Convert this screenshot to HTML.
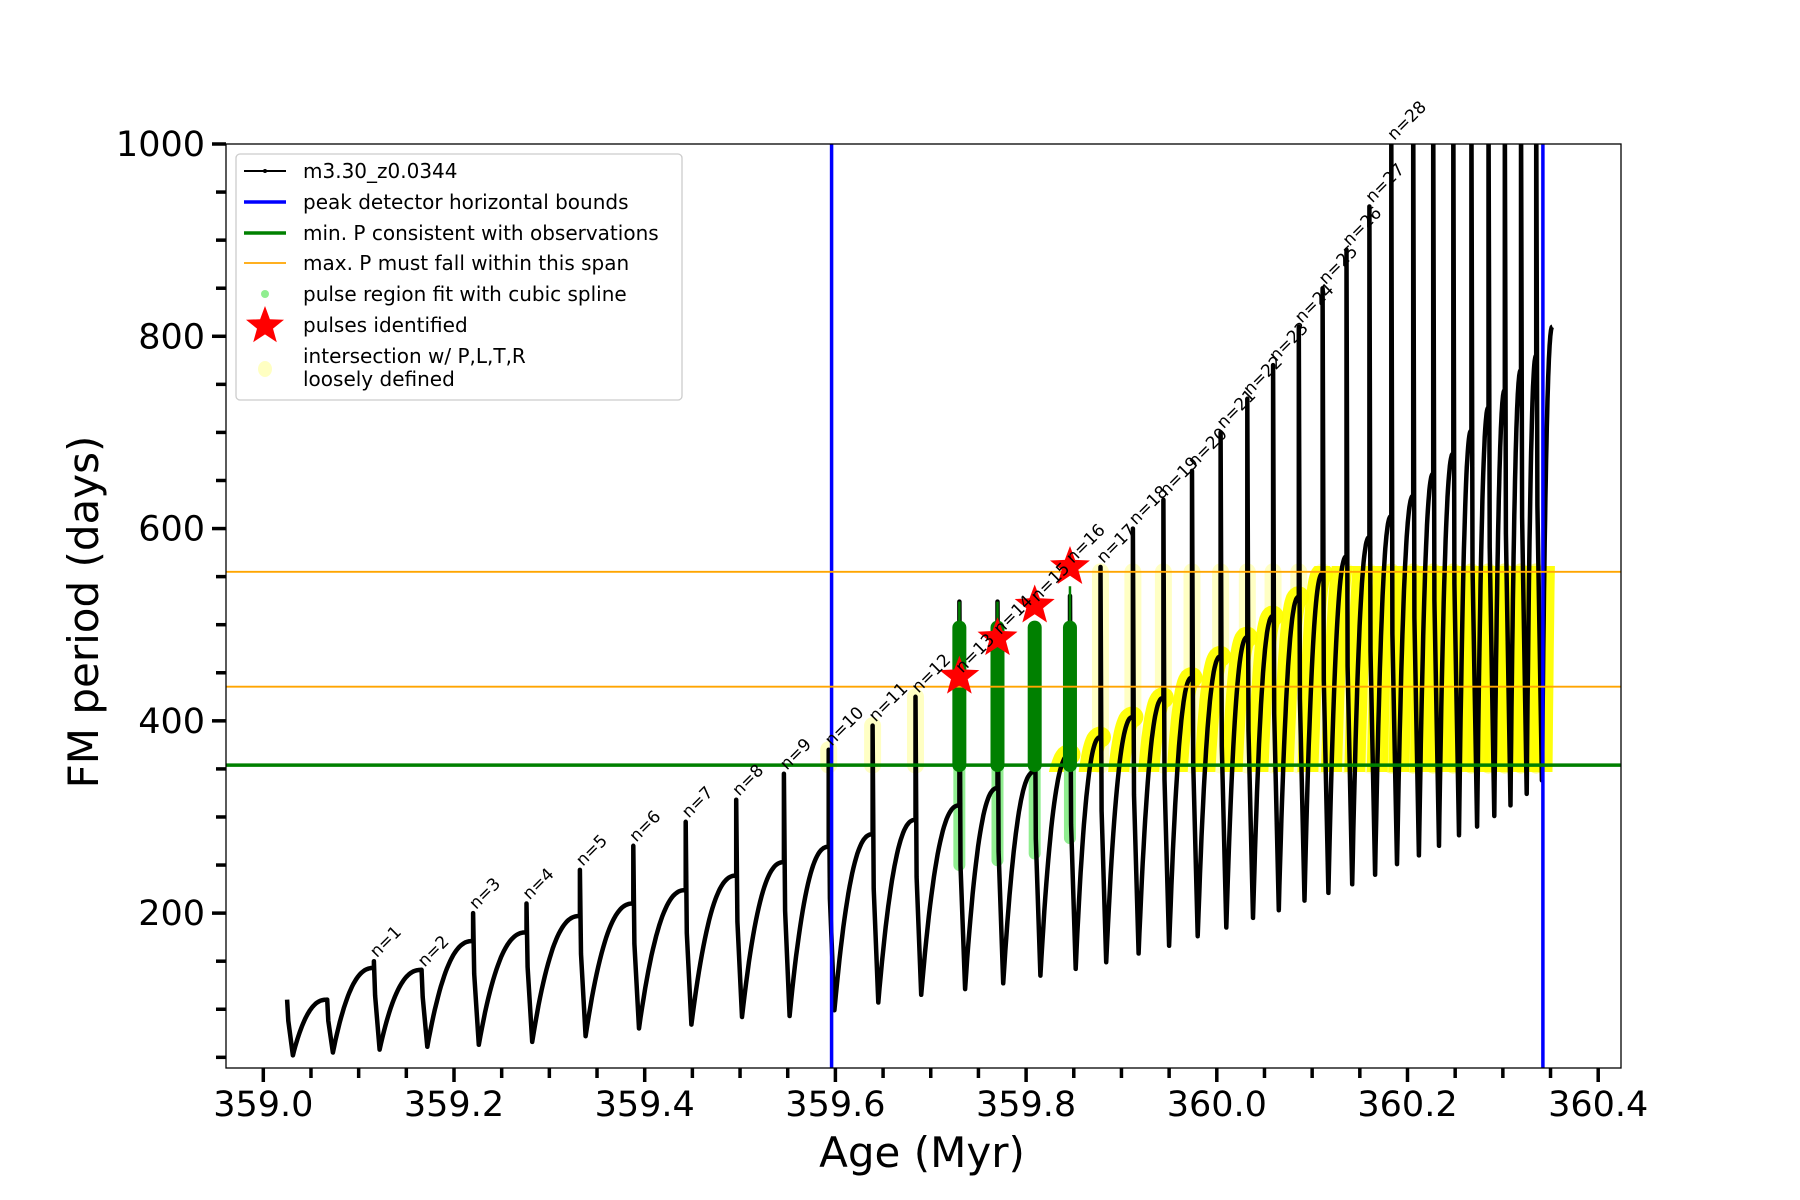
<!DOCTYPE html>
<html><head><meta charset="utf-8">
<style>
html,body{margin:0;padding:0;background:#fff;}
svg{display:block;font-family:"DejaVu Sans","Liberation Sans",sans-serif;}
</style></head>
<body>
<svg id="chart" width="1800" height="1200" viewBox="0 0 1800 1200">
<defs>
<clipPath id="plotclip"><rect x="226" y="144" width="1395" height="924"/></clipPath>
<clipPath id="bandclip"><rect x="226" y="566" width="1395" height="206"/></clipPath>
</defs>
<rect x="0" y="0" width="1800" height="1200" fill="#fff"/>
<g id="plot" clip-path="url(#plotclip)"></g>
<rect x="226" y="144" width="1395" height="924" fill="none" stroke="#000" stroke-width="1.3"/>
<g id="axes"></g>
<text x="922" y="1167" font-size="42" text-anchor="middle">Age (Myr)</text>
<text x="0" y="0" font-size="42" text-anchor="middle" transform="translate(98,612) rotate(-90)">FM period (days)</text>
<g id="legend">
<rect x="236" y="154" width="446" height="246" rx="4" fill="#fff" fill-opacity="0.85" stroke="#ccc" stroke-width="1.3"/>
<line x1="244" y1="171" x2="286" y2="171" stroke="#000" stroke-width="2"/>
<circle cx="265" cy="171" r="2" fill="#000"/>
<text x="303" y="178" font-size="20">m3.30_z0.0344</text>
<line x1="244" y1="202" x2="286" y2="202" stroke="#0000ff" stroke-width="3.5"/>
<text x="303" y="209" font-size="20">peak detector horizontal bounds</text>
<line x1="244" y1="233" x2="286" y2="233" stroke="#008000" stroke-width="3.5"/>
<text x="303" y="240" font-size="20">min. P consistent with observations</text>
<line x1="244" y1="263" x2="286" y2="263" stroke="#ffa500" stroke-width="1.8"/>
<text x="303" y="270" font-size="20">max. P must fall within this span</text>
<circle cx="265" cy="294" r="4" fill="#90ee90"/>
<text x="303" y="301" font-size="20">pulse region fit with cubic spline</text>
<polygon id="legstar" fill="#ff0000"/>
<text x="303" y="332" font-size="20">pulses identified</text>
<ellipse cx="265" cy="369" rx="7" ry="8" fill="#ffff99" fill-opacity="0.6"/>
<text x="303" y="363" font-size="20">intersection w/ P,L,T,R</text>
<text x="303" y="386" font-size="20">loosely defined</text>
</g>
</svg>
<script>
// ---- data ----
const spikeAge = [359.025,359.067,359.116,359.166,359.220,359.276,359.332,359.388,359.443,359.496,359.546,359.593,359.639,359.684,359.730,359.770,359.809,359.846,359.878,359.912,359.944,359.974,360.004,360.032,360.059,360.086,360.111,360.136,360.160,360.183,360.206,360.227,360.248,360.267,360.285,360.302,360.319,360.335];
const peakP = [110,110,150,140,200,210,245,270,295,318,345,370,395,425,524,524,500,530,560,600,630,660,700,735,770,810,850,890,935,1010,1050,1050,1050,1050,1050,1050,1050,1050];
const minP = [52,55,58,61,63,66,72,80,84,92,93,99,107,115,121,127,135,142,149,158,166,176,185,195,203,213,221,230,240,251,260,270,281,290,301,312,324,338];
const riseMaxP = [110,143,141,171,180,197,210,224,239,253,269,282,297,312,330,347,365,383,404,424,445,467,487,509,529,553,571,591,613,634,657,678,702,726,744,765,780,810];
const endAge = 360.352;
const labelN = [null,null,1,2,3,4,5,6,7,8,9,10,11,12,13,14,15,16,17,18,19,20,21,22,23,24,25,26,27,28,null,null,null,null,null,null,null,null];
const starAge = [359.730,359.770,359.809,359.846];
const starP = [446,486,520,560];
const greenTopP = [497,497,497,497];
const greenSpikeP = [524,524,500,540];
const lightBottomP = [250,255,262,278];
const blueAges = [359.596,360.342];
const greenP = [354];
const orangeP = [555,435.5];
const xTicks = [359.0,359.2,359.4,359.6,359.8,360.0,360.2,360.4];
const xTickLabels = ["359.0","359.2","359.4","359.6","359.8","360.0","360.2","360.4"];
const yTicks = [200,400,600,800,1000];
const yTickLabels = ["200","400","600","800","1000"];

// ---- scales ----
const X = a => 263.3 + (a - 359.0) * 953.5;
const Y = v => 144 + (1000 - v) * 0.9614;
const NS = 'http://www.w3.org/2000/svg';
function mk(tag, attrs, parent) {
  const e = document.createElementNS(NS, tag);
  for (const k in attrs) e.setAttribute(k, attrs[k]);
  parent.appendChild(e);
  return e;
}
const plot = document.getElementById('plot');
const axes = document.getElementById('axes');

// ---- model curve ----
let d = '';
const risePaths = [];
for (let i = 0; i < spikeAge.length; i++) {
  const t = spikeAge[i];
  const tn = (i + 1 < spikeAge.length) ? spikeAge[i + 1] : endAge;
  const prev = i === 0 ? peakP[0] : riseMaxP[i - 1];
  d += (i === 0 ? 'M' : 'L') + X(t).toFixed(1) + ',' + Y(prev).toFixed(1);
  d += 'L' + X(t).toFixed(1) + ',' + Y(peakP[i]).toFixed(1);
  d += 'L' + X(t + 0.0012).toFixed(1) + ',' + Y(prev * 0.8).toFixed(1);
  const t0 = t + 0.006;
  let rp = '';
  for (let k = 0; k <= 30; k++) {
    const u = k / 30;
    const v = minP[i] + (riseMaxP[i] - minP[i]) * (1 - Math.pow(1 - u, 2.4));
    const a = t0 + (tn - t0) * u;
    const seg = X(a).toFixed(1) + ',' + Y(v).toFixed(1);
    d += 'L' + seg;
    rp += (k === 0 ? 'M' : 'L') + seg;
  }
  risePaths.push(rp);
}

// yellow faint spike columns
for (let i = 11; i < spikeAge.length; i++) {
  if (i >= 14 && i <= 17) continue;
  const top = Math.min(peakP[i], orangeP[0]);
  const op = i >= 29 ? 0.75 : 0.35;
  const col = mk('line', {x1: X(spikeAge[i]), y1: Y(greenP[0]), x2: X(spikeAge[i]), y2: Y(top), stroke: '#ffff55', 'stroke-width': 17, 'stroke-opacity': op, 'stroke-linecap': 'round'}, plot);
  
  
}
// yellow rising band
const band = mk('g', {'clip-path': 'url(#bandclip)'}, plot);


for (let i = 16; i < risePaths.length; i++) {
  const p = mk('path', {d: risePaths[i], fill: 'none', stroke: '#ffff00', 'stroke-width': 21, 'stroke-linecap': 'round', 'stroke-opacity': 0.95}, band);
  
  
}

// light green spline regions
for (let j = 0; j < starAge.length; j++) {
  const l = mk('line', {x1: X(starAge[j]), y1: Y(greenP[0]), x2: X(starAge[j]), y2: Y(lightBottomP[j]), stroke: '#90ee90', 'stroke-width': 12, 'stroke-linecap': 'round'}, plot);
  
  
}

// model line
const model = mk('path', {d: d, fill: 'none', stroke: '#000', 'stroke-width': 4.5, 'stroke-linejoin': 'round'}, plot);



// dark green pulse columns
for (let j = 0; j < starAge.length; j++) {
  const s = mk('line', {x1: X(starAge[j]), y1: Y(greenTopP[j]), x2: X(starAge[j]), y2: Y(greenSpikeP[j]), stroke: '#008000', 'stroke-width': 2.5}, plot);
  
  
  const c = mk('line', {x1: X(starAge[j]), y1: Y(greenP[0]), x2: X(starAge[j]), y2: Y(greenTopP[j]), stroke: '#008000', 'stroke-width': 14, 'stroke-linecap': 'round'}, plot);
  
  
}

// reference lines
for (const a of blueAges) {
  const l = mk('line', {x1: X(a), y1: 144, x2: X(a), y2: 1068, stroke: '#0000ff', 'stroke-width': 3.5}, plot);
  
  
}
for (const v of orangeP) {
  const l = mk('line', {x1: 226, y1: Y(v), x2: 1621, y2: Y(v), stroke: '#ffa500', 'stroke-width': 1.8}, plot);
  
  
}
for (const v of greenP) {
  const l = mk('line', {x1: 226, y1: Y(v), x2: 1621, y2: Y(v), stroke: '#008000', 'stroke-width': 3.5}, plot);
  
  
}

// stars
function starPts(cx, cy, R) {
  const r = R * 0.42, pts = [];
  for (let k = 0; k < 10; k++) {
    const ang = -Math.PI / 2 + k * Math.PI / 5;
    const rr = k % 2 ? r : R;
    pts.push((cx + rr * Math.cos(ang)).toFixed(1) + ',' + (cy + rr * Math.sin(ang)).toFixed(1));
  }
  return pts.join(' ');
}
document.getElementById('legstar').setAttribute('points', starPts(265, 326, 20));
for (let j = 0; j < starAge.length; j++) {
  const s = mk('polygon', {points: starPts(X(starAge[j]), Y(starP[j]), 21), fill: '#ff0000'}, document.getElementById('chart'));
  
  
}

// n labels
const svg = document.getElementById('chart');
for (let i = 0; i < spikeAge.length; i++) {
  if (labelN[i] === null) continue;
  const sj = starAge.findIndex(a => Math.abs(a - spikeAge[i]) < 0.002);
  const v = sj >= 0 ? starP[sj] : Math.min(peakP[i], 1000);
  const x = X(spikeAge[i]) + 3, y = Y(v) - 3;
  const t = mk('text', {x: 0, y: 0, 'font-size': 17, transform: 'translate(' + x.toFixed(1) + ',' + y.toFixed(1) + ') rotate(-45)'}, svg);
  t.textContent = 'n=' + labelN[i];
  
  
}

// x ticks
for (let a = 359.0; a <= 360.4001; a += 0.05) {
  const major = Math.abs(Math.round(a * 5) - a * 5) < 1e-6;
  const tk = mk('line', {x1: X(a), y1: 1068, x2: X(a), y2: 1068 + (major ? 14 : 10), stroke: '#000', 'stroke-width': 3.5}, axes);
  
  
}
xTicks.forEach((a, i) => {
  const t = mk('text', {x: X(a), y: 1116, 'font-size': 35, 'text-anchor': 'middle'}, axes);
  t.textContent = xTickLabels[i];
  
  
});
// y ticks
for (let v = 50; v <= 1000; v += 50) {
  const major = v % 200 === 0;
  const tk = mk('line', {x1: 226, y1: Y(v), x2: 226 - (major ? 14 : 10), y2: Y(v), stroke: '#000', 'stroke-width': 3.5}, axes);
  
  
}
yTicks.forEach((v, i) => {
  const t = mk('text', {x: 205, y: Y(v) + 12, 'font-size': 35, 'text-anchor': 'end'}, axes);
  t.textContent = yTickLabels[i];
  
  
});
</script>
</body></html>
